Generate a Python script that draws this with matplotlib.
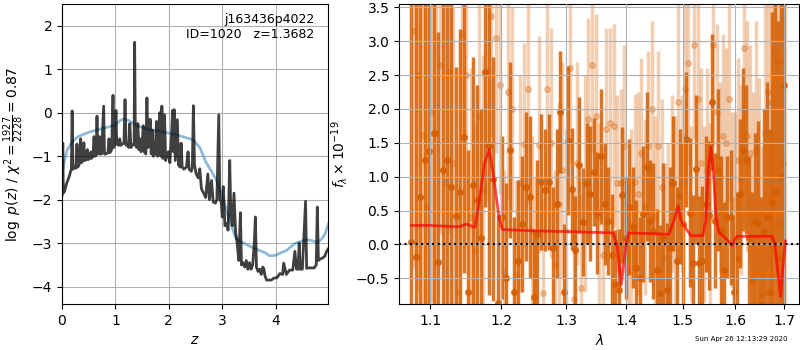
"""
Redshift fit summary: log p(z) on the left, grism spectrum + model on the right
"""
import matplotlib
matplotlib.use("Agg")
import matplotlib.pyplot as plt
from matplotlib.ticker import FixedLocator, FixedFormatter, NullLocator

# ---- left panel: log p(z) ----
z_grid = [0.00, 0.015, 0.025, 0.05, 0.08, 0.11, 0.14, 0.16, 0.175, 0.19, 0.205, 0.23,
          0.26, 0.28, 0.295, 0.32, 0.35, 0.365, 0.39, 0.41, 0.425, 0.45, 0.475, 0.49,
          0.52, 0.54, 0.555, 0.58, 0.60, 0.615, 0.64, 0.655, 0.67, 0.70, 0.715, 0.74,
          0.78, 0.795, 0.82, 0.86, 0.88, 0.895, 0.93, 0.955, 0.97, 0.99, 1.01, 1.025,
          1.06, 1.08, 1.10, 1.13, 1.16, 1.18, 1.20, 1.22, 1.25, 1.27, 1.29, 1.32,
          1.35, 1.36, 1.375, 1.40, 1.42, 1.44, 1.46, 1.48, 1.50, 1.52, 1.54, 1.57,
          1.59, 1.61, 1.63, 1.65, 1.67, 1.69, 1.71, 1.74, 1.77, 1.79, 1.81, 1.83,
          1.85, 1.87, 1.89, 1.92, 1.94, 1.97, 1.99, 2.02, 2.05, 2.07, 2.09, 2.10,
          2.12, 2.16, 2.18, 2.21, 2.23, 2.25, 2.28, 2.30, 2.33, 2.36, 2.38, 2.42,
          2.44, 2.46, 2.48, 2.51, 2.55, 2.58, 2.61, 2.65, 2.69, 2.73, 2.76, 2.80,
          2.83, 2.87, 2.90, 2.935, 2.955, 2.98, 3.00, 3.02, 3.05, 3.08, 3.11, 3.14,
          3.16, 3.19, 3.22, 3.25, 3.28, 3.31, 3.34, 3.36, 3.39, 3.42, 3.45, 3.48,
          3.51, 3.54, 3.57, 3.60, 3.62, 3.64, 3.67, 3.70, 3.73, 3.76, 3.78, 3.80,
          3.83, 3.87, 3.92, 3.97, 4.02, 4.08, 4.13, 4.15, 4.20, 4.26, 4.32, 4.36,
          4.39, 4.42, 4.44, 4.46, 4.50, 4.56, 4.58, 4.60, 4.64, 4.68, 4.72, 4.76,
          4.78, 4.80, 4.84, 4.88, 4.92, 4.95, 4.99]
log_pz = [-1.90, -0.70, -1.85, -1.80, -1.65, -1.55, -1.45, -1.35, -1.30, 0.04, -1.30, -1.25,
          -1.28, -0.72, -1.25, -1.20, -0.60, -1.15, -1.10, -0.69, -1.10, -1.08, -0.85, -1.08,
          -1.05, -0.90, -1.05, -1.00, -0.55, -1.00, -0.98, -0.08, -0.95, -0.55, -0.95, -0.95,
          0.15, -0.95, -0.95, -0.92, -0.60, -0.92, -0.85, 0.40, -0.80, -0.70, 0.05, -0.72,
          -0.75, -0.60, -0.75, -0.72, -0.70, 0.30, -0.75, -0.70, -0.80, -0.25, -0.80, -0.75,
          -0.70, 1.62, -0.75, -0.80, -0.25, -0.85, -0.60, -0.90, -0.75, -0.30, -0.90, -0.95,
          0.34, -0.80, -0.75, -0.15, -0.95, -0.40, -1.00, -0.95, -0.20, -1.00, -0.90, 0.00,
          -1.00, 0.15, -1.05, -0.05, -1.10, -0.95, -0.90, -1.15, -0.55, 0.05, -0.90, 0.07,
          -1.10, -0.16, -1.20, -1.25, -0.70, -1.25, -1.30, -1.28, -1.25, -0.90, -1.30, -1.35,
          -1.25, 0.16, -1.20, -1.40, -1.50, -1.29, -1.75, -1.85, -1.95, -1.41, -2.00, -1.56,
          -2.05, -2.08, -2.00, -0.05, -2.00, -2.05, -2.40, -1.70, -2.60, -2.55, -2.70, -1.10,
          -2.30, -2.60, -1.85, -2.75, -3.00, -3.40, -2.30, -3.50, -3.45, -3.55, -3.40, -3.60,
          -3.45, -3.60, -3.50, -3.00, -2.40, -3.55, -3.65, -3.60, -3.72, -3.55, -3.60, -3.75,
          -3.85, -3.85, -3.85, -3.80, -3.80, -3.70, -3.72, -3.46, -3.72, -3.62, -3.62, -3.19,
          -3.60, -3.60, -3.00, -3.60, -3.60, -2.04, -3.58, -3.57, -3.57, -3.57, -3.57, -3.50,
          -2.17, -3.40, -3.36, -3.34, -3.30, -3.20, -3.12]

z_smooth = [0.00, 0.03, 0.06, 0.10, 0.20, 0.30, 0.50, 0.70, 0.90, 1.00, 1.10, 1.15, 1.25,
            1.40, 1.60, 1.80, 2.00, 2.20, 2.45, 2.58, 2.70, 2.80, 2.89, 3.00, 3.14,
            3.26, 3.40, 3.60, 3.80, 3.89, 4.00, 4.10, 4.20, 4.37, 4.50, 4.60, 4.70,
            4.78, 4.85, 4.92, 4.99]
log_pz_smooth = [-1.42, -1.20, -1.02, -0.85, -0.66, -0.55, -0.45, -0.38, -0.32, -0.28, -0.17, -0.15, -0.18,
                 -0.30, -0.38, -0.42, -0.47, -0.53, -0.62, -0.80, -1.15, -1.35, -1.55, -1.92, -2.50,
                 -2.90, -3.00, -3.12, -3.22, -3.29, -3.28, -3.22, -3.17, -3.00, -2.95, -2.92, -2.95,
                 -2.98, -2.92, -2.80, -2.55]

# ---- right panel: spectrum ----
wave_a = [1.075, 1.081, 1.087, 1.093, 1.099, 1.105, 1.111, 1.117, 1.123, 1.129, 1.135, 1.141,
          1.147, 1.153, 1.159, 1.165, 1.171, 1.177, 1.183, 1.189, 1.195, 1.201, 1.207, 1.213,
          1.219, 1.225, 1.231, 1.237, 1.243, 1.249, 1.255, 1.261, 1.267, 1.273, 1.279, 1.285,
          1.291, 1.297, 1.303, 1.309, 1.315, 1.321, 1.327, 1.333, 1.339, 1.345, 1.351, 1.357,
          1.363, 1.369, 1.375, 1.381, 1.387, 1.393, 1.399, 1.405, 1.411, 1.417, 1.423, 1.429,
          1.435, 1.441, 1.447, 1.453, 1.459, 1.465, 1.471, 1.477, 1.483, 1.489, 1.495, 1.501,
          1.507, 1.513, 1.519, 1.525, 1.531, 1.537, 1.543, 1.549, 1.555, 1.561, 1.567, 1.573,
          1.579, 1.585, 1.591, 1.597, 1.603, 1.609, 1.615, 1.621, 1.627, 1.633, 1.639, 1.645,
          1.651, 1.657, 1.663, 1.669, 1.675, 1.681, 1.687, 1.693, 1.699]
flux_a = [0.04, -0.18, 0.70, 1.25, 1.38, 1.65, -0.26, 1.10, 1.25, 0.85, 0.42, 0.78,
          1.58, -0.70, 0.87, 0.65, 0.10, 2.55, 1.45, 0.97, -0.86, 0.40, -0.50, 1.40,
          -0.70, -0.25, 0.30, 0.85, 0.70, -0.78, 0.15, 0.92, 0.80, 0.92, -0.05, 0.60,
          1.96, -0.70, 1.53, 0.82, -0.08, 1.17, 0.33, 0.90, 0.75, 1.07, 0.47, 1.30,
          0.60, 0.35, -0.15, -0.58, -0.67, 0.73, 0.10, 0.55, 0.25, -0.35, -0.50, 0.45,
          1.15, 0.35, 0.20, -0.38, -0.72, 0.10, -0.68, -0.06, 0.90, -0.25, 0.71, 0.30,
          1.55, 0.47, -0.27, 1.11, -0.28, -0.24, 0.60, 0.43, 2.10, 0.35, 1.10, 0.20,
          -0.38, 0.40, 0.40, -0.70, -0.22, 0.75, 1.40, 1.25, 0.10, -0.53, 0.35, 0.32,
          -0.90, 0.20, 0.40, -0.70, 0.63, 0.78, -0.20, 1.00, 2.35]
err_a = [3.6, 3.8, 3.4, 3.5, 3.0, 3.2, 3.4, 2.8, 2.6, 2.7, 2.2, 2.4,
         2.0, 2.1, 1.9, 1.7, 1.9, 2.0, 2.2, 1.8, 1.3, 1.2, 1.4, 1.3,
         1.1, 1.2, 1.0, 1.1, 1.2, 1.0, 1.1, 1.0, 0.9, 1.0, 0.9, 1.1,
         0.9, 1.0, 1.1, 0.9, 0.8, 1.0, 0.8, 0.9, 1.0, 0.8, 0.9, 1.0,
         0.9, 0.8, 0.9, 0.8, 0.9, 1.0, 0.9, 1.0, 0.9, 1.0, 0.9, 1.0,
         1.1, 0.9, 1.0, 0.9, 1.0, 1.1, 1.0, 1.2, 1.0, 1.1, 1.0, 1.2,
         1.0, 1.1, 1.0, 1.1, 1.0, 1.1, 1.0, 1.1, 1.0, 1.0, 1.2, 1.1,
         1.0, 0.9, 1.0, 1.1, 1.0, 1.1, 1.2, 1.1, 1.2, 1.3, 1.3, 1.5,
         1.6, 1.8, 2.0, 2.4, 2.8, 3.2, 3.5, 3.8, 4.0]

wave_b = [1.078, 1.084, 1.090, 1.096, 1.102, 1.108, 1.114, 1.120, 1.126, 1.132, 1.138, 1.144,
          1.150, 1.156, 1.162, 1.168, 1.174, 1.180, 1.186, 1.192, 1.198, 1.204, 1.210, 1.216,
          1.222, 1.228, 1.234, 1.240, 1.246, 1.252, 1.258, 1.264, 1.270, 1.276, 1.282, 1.288,
          1.294, 1.300, 1.306, 1.312, 1.318, 1.324, 1.330, 1.336, 1.342, 1.348, 1.354, 1.360,
          1.366, 1.372, 1.378, 1.384, 1.390, 1.396, 1.402, 1.408, 1.414, 1.420, 1.426, 1.432,
          1.438, 1.444, 1.450, 1.456, 1.462, 1.468, 1.474, 1.480, 1.486, 1.492, 1.498, 1.504,
          1.510, 1.516, 1.522, 1.528, 1.534, 1.540, 1.546, 1.552, 1.558, 1.564, 1.570, 1.576,
          1.582, 1.588, 1.594, 1.600, 1.606, 1.612, 1.618, 1.624, 1.630, 1.636, 1.642, 1.648,
          1.654, 1.660, 1.666, 1.672, 1.678, 1.684, 1.690, 1.696]
flux_b = [3.15, 2.50, 1.62, 0.55, 1.95, 1.65, 2.65, 0.90, 2.55, 1.20, -0.70, 3.10,
          2.50, 0.40, -0.10, 1.90, 0.80, 2.55, 3.38, 3.05, 2.35, -0.40, 2.25, 2.00,
          -0.45, 0.90, 1.48, 2.30, 0.20, -0.50, 1.47, -0.72, 2.30, 1.50, -0.30, 0.60,
          1.10, 0.20, 2.60, -0.80, 1.20, -0.65, 0.90, 1.85, 2.65, 1.90, 0.40, -0.15,
          1.70, 1.80, 1.75, 0.90, 0.90, 1.45, -0.40, 0.30, 0.92, 0.75, 1.35, 0.55,
          1.45, 2.00, 0.40, 1.45, 0.85, -0.20, 0.00, 0.90, 0.50, 2.10, 0.90, 2.30,
          2.68, 0.45, 2.95, 2.15, 1.20, 0.45, 1.10, 0.40, 2.95, 1.95, 1.00, 1.60,
          1.50, 2.15, 0.65, 0.55, 1.25, 0.95, 2.90, 1.60, 1.35, 0.45, 1.40, 0.45,
          -0.75, 1.65, 2.25, 2.10, 2.85, 2.70, 0.30, 1.20]
err_b = [3.5, 3.2, 3.0, 3.3, 2.8, 2.6, 2.5, 2.7, 2.4, 2.3, 2.2, 2.1,
         2.0, 2.2, 1.9, 1.8, 2.0, 1.9, 1.8, 1.7, 1.6, 1.5, 1.6, 1.5,
         1.4, 1.6, 1.5, 1.7, 1.4, 1.5, 1.6, 1.4, 1.5, 1.7, 1.4, 1.5,
         1.6, 1.5, 1.4, 1.6, 1.5, 1.4, 1.6, 1.5, 1.3, 1.5, 1.4, 1.6,
         1.5, 1.4, 1.5, 1.3, 1.4, 1.5, 1.3, 1.4, 1.3, 1.5, 1.4, 1.3,
         1.4, 1.3, 1.5, 1.4, 1.3, 1.4, 1.5, 1.3, 1.4, 1.5, 1.3, 1.4,
         1.5, 1.3, 1.4, 1.5, 1.4, 1.3, 1.5, 1.4, 1.5, 1.3, 1.4, 1.5,
         1.4, 1.5, 1.3, 1.4, 1.5, 1.4, 1.6, 1.7, 1.6, 1.8, 1.9, 2.0,
         2.2, 2.4, 2.6, 2.8, 3.0, 3.2, 3.4, 3.5]

wave_model = [1.075, 1.100, 1.140, 1.150, 1.155, 1.162, 1.168, 1.176, 1.183, 1.190, 1.197, 1.202,
              1.250, 1.300, 1.377, 1.384, 1.388, 1.391, 1.396, 1.400, 1.404, 1.440, 1.475, 1.486,
              1.492, 1.497, 1.505, 1.515, 1.538, 1.543, 1.548, 1.553, 1.558, 1.563, 1.568, 1.580,
              1.590, 1.594, 1.600, 1.604, 1.675, 1.680, 1.686, 1.692, 1.697, 1.702]
flux_model = [0.28, 0.28, 0.26, 0.30, 0.28, 0.25, 0.60, 1.20, 1.40, 0.95, 0.40, 0.22,
              0.20, 0.19, 0.17, 0.00, -0.35, -0.60, -0.25, 0.05, 0.17, 0.16, 0.15, 0.40,
              0.57, 0.35, 0.25, 0.13, 0.13, 0.35, 1.10, 1.44, 1.05, 0.40, 0.18, 0.10,
              0.02, -0.02, 0.08, 0.12, 0.12, 0.00, -0.40, -0.77, -0.30, 0.05]

lam_ticks = [1.1, 1.2, 1.3, 1.4, 1.5, 1.6, 1.7]
lam_labels = ['1.1', '1.2', '1.3', '1.4', '1.5', '1.6', '1.7']

grism_color = (0.8352941176470589, 0.3686274509803922, 0.0)


def main():
    fig = plt.figure(figsize=(8, 3.5), dpi=100)

    # left: p(z)
    ax = fig.add_axes([0.0775, 0.1314, 0.3325, 0.8572])
    ax.plot(z_grid, log_pz, color='k', alpha=0.75, lw=2, zorder=3)
    ax.plot(z_smooth, log_pz_smooth, color='tab:blue', alpha=0.5, lw=2, zorder=2)
    ax.set_xlim(0, 4.98)
    ax.set_ylim(-4.4, 2.5)
    ax.set_xticks([0, 1, 2, 3, 4])
    ax.set_yticks([-4, -3, -2, -1, 0, 1, 2])
    ax.grid()
    ax.set_xlabel(r'$z$')
    ax.set_ylabel(r'$\log\ p(z)$' + ' / ' + r'$\chi^2=\frac{1927}{2228}=0.87$')
    ax.text(0.95, 0.97, 'j163436p4022\nID=1020   z=1.3682', ha='right', va='top',
            transform=ax.transAxes, fontsize=9)

    # right: spectrum, two sets of points plus the model
    ax2 = fig.add_axes([0.499, 0.1314, 0.5, 0.8572])
    ax2.errorbar(wave_b, flux_b, yerr=err_b, fmt='o', color=grism_color, alpha=0.3,
                 ms=4, elinewidth=2.5, zorder=1)
    ax2.errorbar(wave_a, flux_a, yerr=err_a, fmt='o', color=grism_color, alpha=0.85,
                 ms=4, elinewidth=2.5, zorder=1.5)
    ax2.plot(wave_model, flux_model, color='r', alpha=0.7, lw=2, zorder=4)
    ax2.axhline(0, color='k', ls=':', lw=1.5, zorder=5)
    ax2.set_xscale('log')
    ax2.set_xlim(1.059, 1.731)
    ax2.set_ylim(-0.88, 3.55)
    ax2.xaxis.set_major_locator(FixedLocator(lam_ticks))
    ax2.xaxis.set_major_formatter(FixedFormatter(lam_labels))
    ax2.xaxis.set_minor_locator(NullLocator())
    ax2.set_yticks([-0.5, 0, 0.5, 1, 1.5, 2, 2.5, 3, 3.5])
    ax2.set_axisbelow(False)
    ax2.grid(zorder=3)
    ax2.set_xlabel(r'$\lambda$')
    ax2.set_ylabel(r'$f_\lambda \times 10^{-19}$')

    fig.text(0.984, 0.031, 'Sun Apr 26 12:13:29 2020', ha='right', va='center', fontsize=5)

    fig.savefig('out.png', dpi=100)


if __name__ == "__main__":
    main()
